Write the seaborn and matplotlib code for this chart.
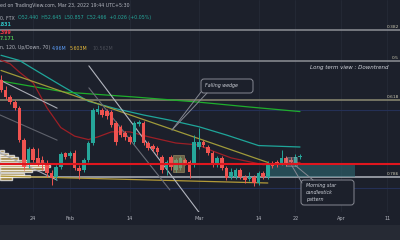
import numpy as np
import pandas as pd
import matplotlib
matplotlib.use('Agg')
import matplotlib.pyplot as plt
from matplotlib.patches import Rectangle, FancyBboxPatch
import seaborn as sns

# DADOS =======================================================================
# velas diarias, dia 0 = 17 jan 2022 ... dia 65 = 23 mar 2022
days = list(range(66))
opens = [78.2, 74.8, 72.3, 70.5, 68.4, 57.2, 48.5, 54.1, 51.0, 50.2,
         49.2, 45.7, 44.3, 47.8, 52.7, 51.6, 52.7, 47.4, 46.8, 50.2,
         56.2, 67.0, 67.8, 67.4, 67.0, 63.2, 61.8, 59.7, 58.3, 56.5,
         62.8, 63.2, 56.2, 55.2, 54.4, 51.3, 47.4, 51.3, 46.8, 47.4,
         50.2, 49.6, 48.5, 54.8, 56.5, 54.8, 52.7, 48.5, 51.0, 47.4,
         44.3, 44.3, 46.8, 44.3, 43.6, 44.3, 42.2, 45.7, 44.3, 49.2,
         49.6, 49.2, 51.0, 50.2, 48.5, 51.2]
highs = [80.0, 76.2, 73.0, 71.2, 69.2, 58.0, 54.8, 54.8, 54.4, 51.6,
         50.2, 46.8, 48.5, 53.0, 53.0, 53.4, 53.8, 48.5, 51.0, 56.9,
         68.4, 69.5, 68.4, 68.1, 67.8, 63.9, 62.5, 60.4, 59.0, 63.9,
         64.2, 63.9, 56.9, 55.8, 55.2, 52.0, 50.2, 52.0, 51.0, 51.6,
         51.0, 50.2, 59.0, 61.4, 57.2, 55.5, 53.4, 51.6, 51.6, 48.2,
         47.4, 47.4, 47.4, 45.0, 46.0, 45.0, 46.4, 46.4, 49.9, 49.9,
         50.2, 53.8, 51.6, 51.3, 52.3, 52.3]
lows = [74.0, 71.6, 69.8, 67.8, 56.5, 46.8, 47.4, 49.5, 48.2, 46.8,
        44.3, 41.5, 43.2, 47.1, 50.6, 51.0, 46.8, 43.6, 46.0, 49.6,
        55.5, 66.4, 65.3, 64.6, 61.8, 55.5, 58.3, 57.2, 55.8, 55.8,
        62.2, 55.5, 53.8, 53.4, 52.0, 45.7, 45.0, 46.8, 46.0, 46.8,
        48.5, 44.0, 47.8, 54.1, 54.8, 52.0, 47.8, 47.8, 46.8, 43.2,
        43.6, 43.6, 43.6, 42.2, 42.9, 41.2, 41.5, 43.6, 43.6, 47.4,
        47.8, 48.5, 48.2, 48.5, 48.2, 50.6]
closes = [74.8, 72.3, 70.5, 68.4, 57.2, 47.8, 54.1, 50.2, 49.2, 49.2,
          45.7, 44.0, 47.8, 52.3, 51.3, 52.7, 47.4, 46.4, 50.2, 56.2,
          67.8, 68.1, 66.0, 65.6, 62.5, 56.5, 59.0, 58.3, 56.5, 63.2,
          63.5, 56.2, 54.4, 54.1, 53.0, 46.8, 49.6, 47.8, 50.2, 51.0,
          49.2, 46.0, 56.5, 56.5, 55.5, 52.7, 48.5, 51.0, 47.4, 44.0,
          46.0, 46.8, 44.3, 43.2, 44.3, 42.2, 45.7, 44.3, 49.2, 48.2,
          48.5, 51.0, 48.5, 49.6, 51.3, 51.6]

# medias moveis
teal_days = [0, 4, 8, 13, 19, 25, 31, 37, 43, 49, 56, 65]
teal_ma = [86.9, 85.1, 81.2, 76.4, 70.8, 68.2, 66.0, 64.1, 61.9, 59.0, 55.3, 54.8]
green_days = [0, 14, 29, 43, 54, 65]
green_ma = [77.9, 74.0, 72.3, 70.5, 68.8, 67.2]
red_days = [0, 2, 4, 7, 10, 13, 16, 19, 21, 24, 28, 32, 38, 43, 46, 50, 57, 65]
red_ma = [85.2, 83.9, 81.0, 77.2, 68.5, 61.6, 58.6, 57.4, 58.3, 60.1, 60.1,
          58.4, 56.2, 55.5, 53.4, 51.0, 48.6, 49.4]

# desenhos (trendlines)
wedge_top_days, wedge_top = [0, 58], [81.6, 49.4]
wedge_low_days, wedge_low = [0, 58], [44.6, 42.2]
chan_days = [-0.2, 12.2]
chan_a, chan_b, chan_c = [78.2, 68.4], [66.0, 57.2], [52.7, 43.2]
diag1_days, diag1 = [19.1, 43.3], [83.2, 31.4]
diag2_days, diag2 = [19.1, 36.7], [75.5, 39.8]

fib_levels = [95.9, 84.9, 71.25, 44.3]
fib_labels = ['0.382', '0.5', '0.618', '0.786']
support = 48.7
zone_days, zone_prices = [57.8, 77.0], [44.3, 49.2]

# volume profile (VPVR)
vp_prices = [53.4, 52.5, 51.65, 50.8, 49.9, 49.0, 48.15, 47.3, 46.4, 45.5, 44.65, 43.8]
vp_len = [0.9, 1.7, 3.0, 3.9, 6.1, 9.8, 10.9, 9.6, 7.0, 5.2, 6.5, 2.6]

tick_days = [7, 15, 28, 43, 56, 64, 74, 84]
tick_labels = ['24', 'Feb', '14', 'Mar', '14', '22', 'Apr', '11']

# ESTILO ======================================================================
BG = '#1c202b'
UP, DOWN = '#26a69a', '#ef5350'
sns.set_theme(style='dark', rc={'axes.facecolor': BG, 'figure.facecolor': BG})
plt.rcParams['font.family'] = ['DejaVu Sans']

fig = plt.figure(figsize=(4, 2.4), dpi=100)
ax = fig.add_axes([0, 28 / 240, 1, 212 / 240])
ax.set_xlim(-0.22, 86.74)
ax.set_ylim(32.05, 106.25)
for s in ax.spines.values():
    s.set_visible(False)
ax.grid(False)
ax.set_yticks([])
ax.set_xticks(tick_days, tick_labels)
ax.tick_params(axis='x', length=0, pad=2.6, labelsize=3.6, labelcolor='#b2b5be')
ax.set_xlabel('')
ax.set_ylabel('')

for d in tick_days:
    ax.axvline(d, color='#252a36', lw=0.6, zorder=0)
for p in [67.75, 40.45]:
    ax.axhline(p, color='#243056', lw=0.8, zorder=0)

# fib
for p, c in zip(fib_levels, ['#8d8f96', '#8d8f96', '#8b8a72', '#b2b5be']):
    ax.axhline(p, color=c, lw=1.1, zorder=1)

# zona alvo
ax.add_patch(Rectangle((zone_days[0], zone_prices[0]), zone_days[1] - zone_days[0],
                       zone_prices[1] - zone_prices[0], color='#2f6f78', alpha=0.55,
                       lw=0, zorder=1))

# VPVR
ax.barh(vp_prices, vp_len, height=0.75, left=-0.22, color='#c9a13a', alpha=0.7, zorder=2)

# medias
sns.lineplot(x=teal_days, y=teal_ma, ax=ax, color='#1fa69a', lw=0.9, zorder=3)
sns.lineplot(x=green_days, y=green_ma, ax=ax, color='#1fae2c', lw=0.9, zorder=3)
sns.lineplot(x=red_days, y=red_ma, ax=ax, color='#9c1f26', lw=0.9, zorder=3)

# trendlines
sns.lineplot(x=wedge_top_days, y=wedge_top, ax=ax, color='#9f9a3a', lw=0.9, zorder=3)
sns.lineplot(x=wedge_low_days, y=wedge_low, ax=ax, color='#b39a38', lw=0.9, zorder=3)
for yy, c in [(chan_a, '#a9acb5'), (chan_b, '#5f626c'), (chan_c, '#a9acb5')]:
    sns.lineplot(x=chan_days, y=yy, ax=ax, color=c, lw=0.8, zorder=3)
sns.lineplot(x=diag1_days, y=diag1, ax=ax, color='#b2b5be', lw=0.8, zorder=3)
sns.lineplot(x=diag2_days, y=diag2, ax=ax, color='#6a6d77', lw=0.8, zorder=3)

# velas
df = pd.DataFrame({'d': days, 'o': opens, 'h': highs, 'l': lows, 'c': closes})
cols = np.where(df['c'] >= df['o'], UP, DOWN)
ax.vlines(df['d'], df['l'], df['h'], colors=cols, lw=0.7, zorder=4)
body = (df['c'] - df['o']).abs().clip(lower=0.35)
ax.bar(df['d'], body, bottom=df[['o', 'c']].min(axis=1), width=0.76, color=cols, lw=0, zorder=5)

# destaques
ax.add_patch(Rectangle((37.4, 46.05), 2.3, 5.95, facecolor='#a08f5a', edgecolor='#c8b27a',
                       alpha=0.6, lw=0.5, zorder=6))
ax.add_patch(Rectangle((62.0, 48.15), 2.3, 3.15, facecolor='#9598a1', edgecolor='#b2b5be',
                       alpha=0.35, lw=0.6, zorder=6))

ax.axhline(support, color='#e0161e', lw=1.5, zorder=6)

# CAMADA DE TEXTO (pixels) ====================================================
ov = fig.add_axes([0, 0, 1, 1], facecolor='none')
ov.set_xlim(0, 400)
ov.set_ylim(240, 0)
ov.axis('off')
ov.add_patch(Rectangle((0, 225), 400, 15, color='#262a34', lw=0))

fs = 3.4
ov.text(0, 6, 'ed on TradingView.com, Mar 23, 2022 19:44 UTC+5:30', fontsize=fs,
        color='#b2b5be', va='center')
ov.text(0, 18, '0, FTX', fontsize=fs, color='#b2b5be', va='center')
ov.text(18, 18, 'O52.440  H52.645  L50.857  C52.466  +0.026 (+0.05%)', fontsize=fs,
        color='#26a69a', va='center')
ov.text(0, 25, '.831', fontsize=fs, color='#2ec4c4', va='center', weight='bold')
ov.text(0, 33, '.399', fontsize=fs, color='#f23645', va='center', weight='bold')
ov.text(0, 39, '7.171', fontsize=fs, color='#4caf50', va='center', weight='bold')
ov.text(0, 48, 'n, 120, Up/Down, 70)', fontsize=fs, color='#b2b5be', va='center')
ov.text(52, 48, '4.96M', fontsize=fs, color='#5b9cf6', va='center')
ov.text(70, 48, '5.603M', fontsize=fs, color='#e5b93a', va='center')
ov.text(92, 48, '10.562M', fontsize=fs, color='#4a4d57', va='center')

for lab, y in zip(fib_labels, [27, 58, 97, 174]):
    ov.text(399, y, lab, fontsize=3.2, color='#c9c6b0', va='center', ha='right')

ov.text(310, 68, 'Long term view : Downtrend', fontsize=4.0, color='#d1d4dc',
        style='italic', va='center')

# caixa falling wedge
ov.add_patch(FancyBboxPatch((201, 79), 52, 14, boxstyle='round,pad=0,rounding_size=3',
                            facecolor=BG, edgecolor='#868993', lw=0.7))
ov.plot([172, 201], [130, 92], color='#868993', lw=0.7)
ov.plot([172, 207], [130, 93], color='#868993', lw=0.7)
ov.text(205, 86, 'Falling wedge', fontsize=fs, color='#d1d4dc', style='italic', va='center')

# caixa morning star
ov.add_patch(FancyBboxPatch((301, 180), 53, 25, boxstyle='round,pad=0,rounding_size=3',
                            facecolor=BG, edgecolor='#868993', lw=0.7))
ov.plot([292, 302], [166, 183], color='#868993', lw=0.7)
ov.plot([296, 313], [166, 180], color='#868993', lw=0.7)
for t, y in zip(['Morning star', 'candlestick', 'pattern'], [186, 193, 199]):
    ov.text(306, y, t, fontsize=fs, color='#d1d4dc', style='italic', va='center')

fig.savefig('out.png', dpi=100, facecolor=BG)
